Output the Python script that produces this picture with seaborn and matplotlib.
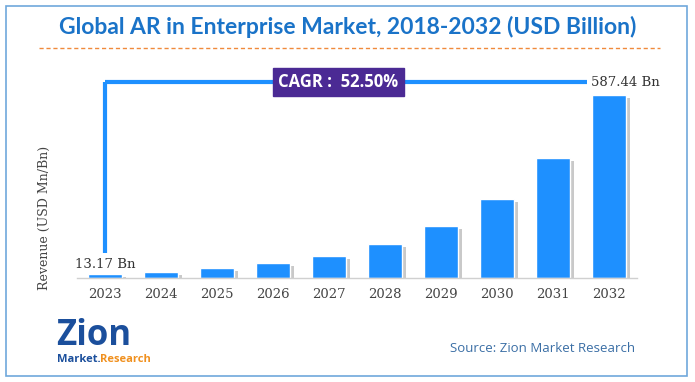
import matplotlib
matplotlib.use("Agg")
import matplotlib.pyplot as plt
import matplotlib.patheffects as pe
from matplotlib.patches import Rectangle
import seaborn as sns
import pandas as pd

years = ["2023", "2024", "2025", "2026", "2027", "2028", "2029", "2030", "2031", "2032"]
revenue = [13.17, 20.1, 30.6, 46.7, 71.2, 108.6, 165.6, 252.6, 385.2, 587.44]
first_label = "13.17 Bn"
last_label = "587.44 Bn"
cagr_text = "CAGR :  52.50%"
title = "Global AR in Enterprise Market, 2018-2032 (USD Billion)"
ylabel = "Revenue (USD Mn/Bn)"
source = "Source: Zion Market Research"

df = pd.DataFrame({"year": years, "revenue": revenue})

sns.set_theme(style="white")
W, H = 695, 382
fig = plt.figure(figsize=(W / 100, H / 100), dpi=100)

def fx(px):
    return px / W

def fy(py):
    return 1 - py / H

# outer border
fig.patches.append(Rectangle((fx(6), fy(376)), fx(687) - fx(6), fy(6) - fy(376),
                             transform=fig.transFigure, fill=False,
                             edgecolor="#6fa8dc", linewidth=1.2))

ax = fig.add_axes([fx(77), fy(278), fx(637) - fx(77), fy(70) - fy(278)])
sns.barplot(data=df, x="year", y="revenue", color="#1e90ff", saturation=1,
            width=0.59, ax=ax)
for p in ax.patches:
    p.set_path_effects([pe.SimplePatchShadow(offset=(3, -2), shadow_rgbFace="#666666", alpha=0.35),
                        pe.Normal()])

ax.set_xlim(-0.5, 9.5)
ax.set_ylim(0, 668)
ax.set_yticks([])
ax.set_xlabel("")
ax.set_ylabel("")
for s in ["top", "right", "left"]:
    ax.spines[s].set_visible(False)
ax.spines["bottom"].set_color("#d0d0d0")
ax.spines["bottom"].set_linewidth(1)
ax.tick_params(axis="x", length=0, pad=7)
for t in ax.get_xticklabels():
    t.set_family("DejaVu Serif")
    t.set_fontsize(9.5)
    t.set_color("#444444")

# CAGR connector
ytop = 629
ax.plot([0, 0], [80, ytop], color="#1e90ff", lw=3, clip_on=False, solid_capstyle="butt", zorder=3)
ax.plot([0, 8.6], [ytop, ytop], color="#1e90ff", lw=3, clip_on=False, solid_capstyle="butt", zorder=3)
ax.text(4.17, ytop, cagr_text, ha="center", va="center", color="white",
        fontsize=12, fontweight="bold", family="Open Sans", zorder=5,
        bbox=dict(boxstyle="square,pad=0.3", facecolor="#4b2a94", edgecolor="#4b2a94"))
ax.text(8.67, ytop, last_label, ha="left", va="center", family="DejaVu Serif",
        fontsize=9.5, color="#333333")
ax.text(0, 42, first_label, ha="center", va="center", family="DejaVu Serif",
        fontsize=9.5, color="#333333")

# title + dashed line
fig.text(fx(348), fy(27), title, ha="center", va="center", fontsize=16.5,
         fontweight="bold", family="Lato", color="#1a73c8")
fig.add_artist(plt.Line2D([fx(39), fx(660)], [fy(48), fy(48)], transform=fig.transFigure,
                          color="#f08a3c", lw=1, linestyle=(0, (3, 2))))

# y label
fig.text(fx(44), fy(218), ylabel, rotation=90, ha="center", va="center",
         family="DejaVu Serif", fontsize=9, color="#444444")

# logo
fig.text(fx(56), fy(336), "Zion", ha="left", va="center", fontsize=25,
         fontweight="bold", family="Open Sans", color="#1b4f9c")
fig.text(fx(57), fy(359), "Market.", ha="left", va="center", fontsize=8,
         fontweight="bold", family="Open Sans", color="#1b4f9c")
fig.text(fx(100), fy(359), "Research", ha="left", va="center", fontsize=8,
         fontweight="bold", family="Open Sans", color="#f0901e")

# source
fig.text(fx(543), fy(348), source, ha="center", va="center", fontsize=9.5,
         family="Open Sans", color="#3a6ea5")

fig.savefig("out.png", dpi=100)
